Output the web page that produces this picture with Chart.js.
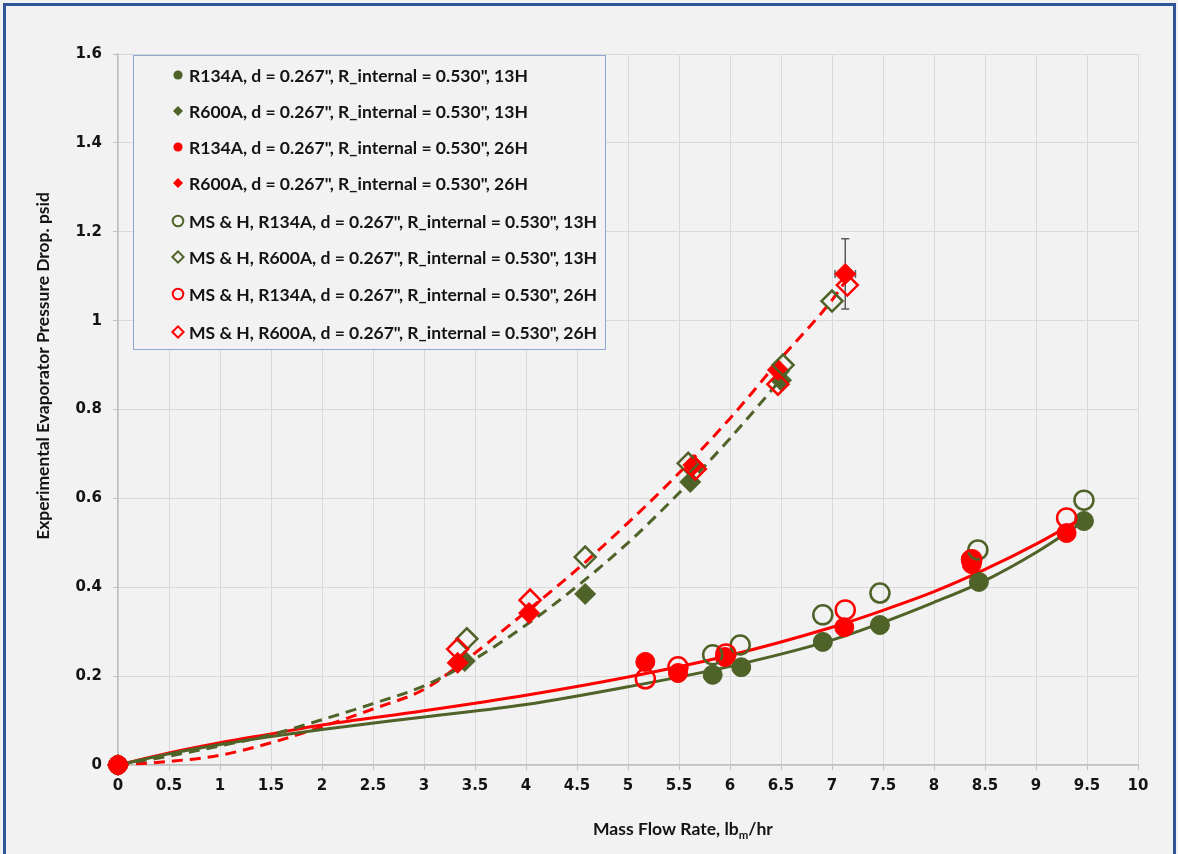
<!DOCTYPE html>
<html>
<head>
<meta charset="utf-8">
<script src="https://cdn.jsdelivr.net/npm/chart.js@4/dist/chart.umd.min.js"></script>
<style>
html,body{margin:0;padding:0;background:#f2f2f2;}
#wrap{width:1178px;height:854px;position:relative;overflow:hidden;}
canvas{display:block;}
</style>
</head>
<body>
<div id="wrap"><canvas id="c" width="1178" height="854"></canvas></div>
<script>
// ---------- DATA ----------
const xTickValues = [0,0.5,1,1.5,2,2.5,3,3.5,4,4.5,5,5.5,6,6.5,7,7.5,8,8.5,9,9.5,10];
const yTickValues = [0,0.2,0.4,0.6,0.8,1,1.2,1.4,1.6];

const seriesLabels = [
  'R134A, d = 0.267", R_internal = 0.530", 13H',
  'R600A, d = 0.267", R_internal = 0.530", 13H',
  'R134A, d = 0.267", R_internal = 0.530", 26H',
  'R600A, d = 0.267", R_internal = 0.530", 26H',
  'MS & H, R134A, d = 0.267", R_internal = 0.530", 13H',
  'MS & H, R600A, d = 0.267", R_internal = 0.530", 13H',
  'MS & H, R134A, d = 0.267", R_internal = 0.530", 26H',
  'MS & H, R600A, d = 0.267", R_internal = 0.530", 26H'
];

const r134a13X = [0, 5.83, 6.11, 6.91, 7.47, 8.44, 9.47];
const r134a13Y = [0, 0.203, 0.220, 0.277, 0.315, 0.412, 0.549];
const r600a13X = [0, 3.40, 4.58, 5.61, 6.50];
const r600a13Y = [0, 0.234, 0.385, 0.637, 0.866];
const r134a26X = [0, 5.17, 5.49, 5.95, 7.12, 8.36, 8.37, 9.30];
const r134a26Y = [0, 0.232, 0.207, 0.243, 0.310, 0.462, 0.452, 0.522];
const r600a26X = [0, 3.33, 4.03, 5.64, 6.47, 7.13];
const r600a26Y = [0, 0.230, 0.342, 0.675, 0.889, 1.105];
const msh134a13X = [5.83, 6.10, 6.91, 7.47, 8.43, 9.47];
const msh134a13Y = [0.248, 0.270, 0.338, 0.387, 0.484, 0.596];
const msh600a13X = [3.42, 4.58, 5.59, 6.52, 7.00];
const msh600a13Y = [0.284, 0.468, 0.679, 0.900, 1.044];
const msh134a26X = [5.17, 5.49, 5.96, 7.13, 8.37, 9.30];
const msh134a26Y = [0.194, 0.221, 0.250, 0.349, 0.462, 0.556];
const msh600a26X = [3.33, 4.04, 5.66, 6.47, 7.15];
const msh600a26Y = [0.261, 0.371, 0.666, 0.857, 1.080];

// error bar on the R600A 26H point at 7.13
const errPointX = [7.13];
const errPointY = [1.105];
const errXPlusMinus = [0.10];
const errYPlusMinus = [0.079];

// trend curves
const fitR134a13X = [0, 0.5, 1, 1.5, 2, 3, 4, 5, 6, 7, 7.5, 8, 8.5, 9, 9.5];
const fitR134a13Y = [0, 0.025, 0.046, 0.064, 0.080, 0.108, 0.136, 0.176, 0.222, 0.281, 0.321, 0.366, 0.415, 0.478, 0.553];
const fitR134a26X = [0, 0.5, 1, 1.5, 2, 3, 4, 5, 6, 7, 7.5, 8, 8.5, 9, 9.45];
const fitR134a26Y = [0, 0.027, 0.050, 0.070, 0.090, 0.122, 0.157, 0.198, 0.247, 0.310, 0.348, 0.390, 0.440, 0.497, 0.555];
const fitR600a13X = [0, 0.5, 1, 1.5, 2, 2.5, 3, 3.4, 4, 4.5, 5, 5.5, 6, 6.6];
const fitR600a13Y = [0, 0.020, 0.043, 0.068, 0.102, 0.138, 0.178, 0.225, 0.315, 0.402, 0.500, 0.612, 0.735, 0.895];
const fitR600a26X = [0, 0.5, 1, 1.5, 2, 2.5, 3, 3.33, 4, 4.5, 5, 5.5, 6, 6.5, 7, 7.13];
const fitR600a26Y = [0, 0.008, 0.022, 0.050, 0.086, 0.126, 0.170, 0.222, 0.345, 0.440, 0.545, 0.657, 0.780, 0.915, 1.046, 1.088];

// ---------- helpers ----------
const OLIVE = '#4f6228';
const RED = '#ff0000';
const pts = (xs, ys) => xs.map((x, i) => ({x: x, y: ys[i]}));

function markerSet(idx, xs, ys, color, style, filled) {
  const isDiamond = style === 'rectRot';
  return {
    label: seriesLabels[idx],
    data: pts(xs, ys),
    showLine: false,
    pointStyle: style,
    pointRadius: isDiamond ? 10.5 : 9.5,
    pointBackgroundColor: filled ? color : 'rgba(0,0,0,0)',
    pointBorderColor: color,
    pointBorderWidth: filled ? 1 : 2.5,
    clip: false,
    order: 10 - idx
  };
}
function fitSet(xs, ys, color, dashed) {
  return {
    label: '',
    data: pts(xs, ys),
    showLine: true,
    pointRadius: 0,
    borderColor: color,
    borderWidth: 3,
    borderDash: dashed ? [11, 7] : [],
    cubicInterpolationMode: 'monotone',
    fill: false,
    clip: false,
    order: 30
  };
}

const datasets = [
  markerSet(0, r134a13X, r134a13Y, OLIVE, 'circle', true),
  markerSet(1, r600a13X, r600a13Y, OLIVE, 'rectRot', true),
  markerSet(2, r134a26X, r134a26Y, RED, 'circle', true),
  markerSet(3, r600a26X, r600a26Y, RED, 'rectRot', true),
  markerSet(4, msh134a13X, msh134a13Y, OLIVE, 'circle', false),
  markerSet(5, msh600a13X, msh600a13Y, OLIVE, 'rectRot', false),
  markerSet(6, msh134a26X, msh134a26Y, RED, 'circle', false),
  markerSet(7, msh600a26X, msh600a26Y, RED, 'rectRot', false),
  fitSet(fitR134a13X, fitR134a13Y, OLIVE, false),
  fitSet(fitR600a13X, fitR600a13Y, OLIVE, true),
  fitSet(fitR134a26X, fitR134a26Y, RED, false),
  fitSet(fitR600a26X, fitR600a26Y, RED, true)
];

const legendStyles = [
  {c: OLIVE, s: 'circle', f: true}, {c: OLIVE, s: 'diamond', f: true},
  {c: RED, s: 'circle', f: true}, {c: RED, s: 'diamond', f: true},
  {c: OLIVE, s: 'circle', f: false}, {c: OLIVE, s: 'diamond', f: false},
  {c: RED, s: 'circle', f: false}, {c: RED, s: 'diamond', f: false}
];
const legendRowY = [75, 111, 147, 183, 221, 257, 294, 332];

function fitSize(ctx, text, family, weight, base, target) {
  ctx.font = weight + ' ' + base + 'px ' + family;
  const w = ctx.measureText(text).width;
  return base * target / w;
}

const TEXT = '#141414';
const TITLE_FAMILY = 'Lato, "Open Sans", sans-serif';

const decorPlugin = {
  id: 'decor',
  beforeDraw(chart) {
    const ctx = chart.ctx;
    ctx.save();
    ctx.fillStyle = '#f2f2f2';
    ctx.fillRect(0, 0, chart.width, chart.height);
    ctx.restore();
  },
  beforeDatasetsDraw(chart) {
    const ctx = chart.ctx, xs = chart.scales.x, ys = chart.scales.y;
    ctx.save();
    ctx.strokeStyle = '#595959';
    ctx.lineWidth = 1.5;
    for (let i = 0; i < errPointX.length; i++) {
      const cx = xs.getPixelForValue(errPointX[i]);
      const cy = ys.getPixelForValue(errPointY[i]);
      const x1 = xs.getPixelForValue(errPointX[i] - errXPlusMinus[i]);
      const x2 = xs.getPixelForValue(errPointX[i] + errXPlusMinus[i]);
      const y1 = ys.getPixelForValue(errPointY[i] + errYPlusMinus[i]);
      const y2 = ys.getPixelForValue(errPointY[i] - errYPlusMinus[i]);
      ctx.beginPath();
      ctx.moveTo(cx, y1); ctx.lineTo(cx, y2);
      ctx.moveTo(cx - 4, y1); ctx.lineTo(cx + 4, y1);
      ctx.moveTo(cx - 4, y2); ctx.lineTo(cx + 4, y2);
      ctx.moveTo(x1, cy); ctx.lineTo(x2, cy);
      ctx.moveTo(x1, cy - 4); ctx.lineTo(x1, cy + 4);
      ctx.moveTo(x2, cy - 4); ctx.lineTo(x2, cy + 4);
      ctx.stroke();
    }
    ctx.restore();
  },
  afterDraw(chart) {
    const ctx = chart.ctx;
    ctx.save();
    // outer frame
    ctx.strokeStyle = '#2f5597';
    ctx.lineWidth = 3;
    ctx.strokeRect(4.5, 4.5, 1170, 900);

    // legend box
    ctx.fillStyle = '#f2f2f2';
    ctx.fillRect(133.5, 55.5, 472, 294);
    ctx.strokeStyle = '#8ea9cf';
    ctx.lineWidth = 1;
    ctx.strokeRect(133.5, 55.5, 472, 294);

    const lsize = fitSize(ctx, seriesLabels[0], TITLE_FAMILY, 'bold', 15, 339);
    ctx.font = 'bold ' + lsize.toFixed(2) + 'px ' + TITLE_FAMILY;
    ctx.textBaseline = 'middle';
    ctx.textAlign = 'left';
    for (let i = 0; i < seriesLabels.length; i++) {
      const y = legendRowY[i], mx = 178, st = legendStyles[i];
      ctx.fillStyle = st.c; ctx.strokeStyle = st.c; ctx.lineWidth = 2;
      ctx.beginPath();
      if (st.s === 'circle') {
        ctx.arc(mx, y, st.f ? 4.6 : 5.3, 0, Math.PI * 2);
      } else {
        const r = st.f ? 5 : 5.6;
        ctx.moveTo(mx - r, y); ctx.lineTo(mx, y - r); ctx.lineTo(mx + r, y); ctx.lineTo(mx, y + r); ctx.closePath();
      }
      if (st.f) ctx.fill(); else ctx.stroke();
      ctx.fillStyle = TEXT;
      ctx.fillText(seriesLabels[i], 189, y + 1);
    }

    // y axis title
    const yTitle = 'Experimental Evaporator Pressure Drop. psid';
    const ysz = fitSize(ctx, yTitle, TITLE_FAMILY, 'bold', 15, 348);
    ctx.save();
    ctx.translate(43, 366);
    ctx.rotate(-Math.PI / 2);
    ctx.font = 'bold ' + ysz.toFixed(2) + 'px ' + TITLE_FAMILY;
    ctx.fillStyle = TEXT;
    ctx.textAlign = 'center';
    ctx.textBaseline = 'middle';
    ctx.fillText(yTitle, 0, 0);
    ctx.restore();

    // x axis title with subscript
    const partA = 'Mass Flow Rate, lb', partSub = 'm', partB = '/hr';
    let base = 15;
    ctx.font = 'bold ' + base + 'px ' + TITLE_FAMILY;
    const wA = ctx.measureText(partA).width, wB = ctx.measureText(partB).width;
    ctx.font = 'bold ' + (base * 0.65) + 'px ' + TITLE_FAMILY;
    const wS = ctx.measureText(partSub).width;
    const scale = 180 / (wA + wB + wS);
    base = base * scale;
    let x = 593;
    const ty = 830;
    ctx.fillStyle = TEXT;
    ctx.textAlign = 'left';
    ctx.textBaseline = 'alphabetic';
    ctx.font = 'bold ' + base.toFixed(2) + 'px ' + TITLE_FAMILY;
    ctx.fillText(partA, x, ty + 5);
    x += ctx.measureText(partA).width;
    ctx.font = 'bold ' + (base * 0.65).toFixed(2) + 'px ' + TITLE_FAMILY;
    ctx.fillText(partSub, x, ty + 9);
    x += ctx.measureText(partSub).width;
    ctx.font = 'bold ' + base.toFixed(2) + 'px ' + TITLE_FAMILY;
    ctx.fillText(partB, x, ty + 5);
    ctx.restore();
  }
};

const tickFont = {family: '"DejaVu Sans", Verdana, sans-serif', size: 15, weight: 'bold'};
const fmt = v => String(Math.round(v * 10) / 10);

new Chart(document.getElementById('c'), {
  type: 'scatter',
  data: {datasets: datasets},
  options: {
    responsive: false,
    devicePixelRatio: 1,
    animation: false,
    events: [],
    layout: {padding: {left: 0, right: 40, top: 54, bottom: 0}},
    plugins: {legend: {display: false}, tooltip: {enabled: false}, title: {display: false}},
    scales: {
      x: {
        type: 'linear', min: xTickValues[0], max: xTickValues[xTickValues.length - 1],
        afterBuildTicks: s => { s.ticks = xTickValues.map(v => ({value: v})); },
        afterFit: s => { s.height = 89; },
        ticks: {font: tickFont, color: TEXT, padding: 7, callback: fmt, maxRotation: 0, autoSkip: false},
        grid: {color: '#d9d9d9', lineWidth: 1, tickLength: 5, tickColor: '#bfbfbf'},
        border: {color: '#bfbfbf', width: 1.5}
      },
      y: {
        type: 'linear', min: yTickValues[0], max: yTickValues[yTickValues.length - 1],
        afterBuildTicks: s => { s.ticks = yTickValues.map(v => ({value: v})); },
        afterFit: s => { s.width = 118; },
        ticks: {font: tickFont, color: TEXT, padding: 11, callback: fmt, autoSkip: false},
        grid: {color: '#d9d9d9', lineWidth: 1, tickLength: 5, tickColor: '#bfbfbf'},
        border: {color: '#bfbfbf', width: 1.5}
      }
    }
  },
  plugins: [decorPlugin]
});
</script>
</body>
</html>
